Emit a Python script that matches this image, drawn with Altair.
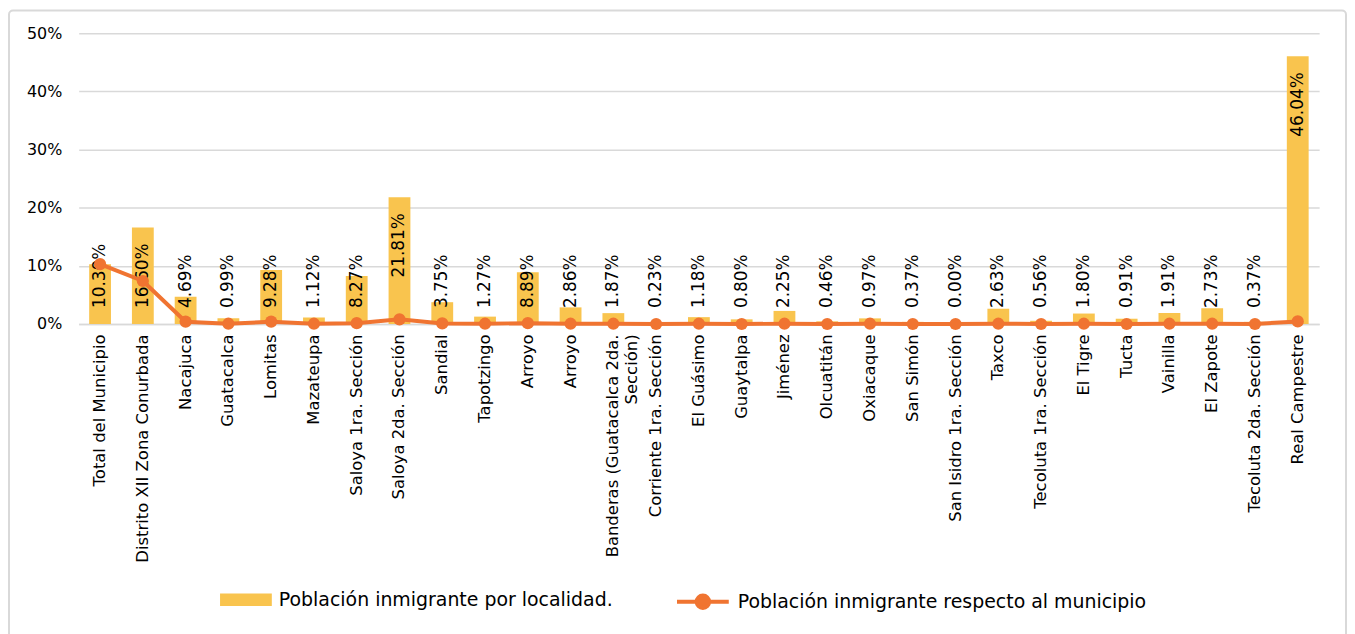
import json
import altair as alt
import pandas as pd

categories = [
    "Total del Municipio", "Distrito XII Zona Conurbada", "Nacajuca", "Guatacalca",
    "Lomitas", "Mazateupa", "Saloya 1ra. Sección", "Saloya 2da. Sección", "Sandial",
    "Tapotzingo", "Arroyo", "Arroyo", "Banderas (Guatacalca 2da. Sección)",
    "Corriente 1ra. Sección", "El Guásimo", "Guaytalpa", "Jiménez", "Olcuatitán",
    "Oxiacaque", "San Simón", "San Isidro 1ra. Sección", "Taxco",
    "Tecoluta 1ra. Sección", "El Tigre", "Tucta", "Vainilla", "El Zapote",
    "Tecoluta 2da. Sección", "Real Campestre",
]
bar_values = [
    10.30, 16.60, 4.69, 0.99, 9.28, 1.12, 8.27, 21.81, 3.75, 1.27, 8.89, 2.86, 1.87,
    0.23, 1.18, 0.80, 2.25, 0.46, 0.97, 0.37, 0.00, 2.63, 0.56, 1.80, 0.91, 1.91,
    2.73, 0.37, 46.04,
]
line_values = [
    10.30, 7.40, 0.40, 0.05, 0.40, 0.05, 0.15, 0.80, 0.10, 0.05, 0.15, 0.05, 0.05,
    0.00, 0.05, 0.00, 0.05, 0.00, 0.05, 0.00, 0.00, 0.05, 0.00, 0.05, 0.00, 0.05,
    0.05, 0.00, 0.45,
]
y_ticks = [0, 10, 20, 30, 40, 50]
bar_name = "Población inmigrante por localidad."
line_name = "Población inmigrante respecto al municipio"

YEL = "#F9C44E"
ORA = "#F07431"
GRID = "#d9d9d9"
FONT = "DejaVu Sans"

df = pd.DataFrame({
    "idx": list(range(len(categories))),
    "localidad": categories,
    "bar": bar_values,
    "line": line_values,
})
df["bar_series"] = bar_name
df["line_series"] = line_name

# axis label texts (long Banderas label wrapped onto two lines)
label_list = [
    ["Banderas (Guatacalca 2da.", "Sección)"] if c.startswith("Banderas") else c
    for c in categories
]
label_expr = json.dumps(label_list, ensure_ascii=False) + "[datum.value]"

x = alt.X(
    "idx:O",
    scale=alt.Scale(paddingInner=0.49, paddingOuter=0.245),
    axis=alt.Axis(
        title=None, labelAngle=270, labelExpr=label_expr, ticks=False, grid=False,
        domain=True, labelPadding=10, domainColor=GRID, domainWidth=1.5,
        labelFontSize=16.5, labelColor="#000000", labelFont=FONT, labelLimit=400,
        labelAlign="right", labelBaseline="middle",
    ),
)
y_axis = alt.Axis(
    values=y_ticks, labelExpr="datum.value + '%'", title=None, domain=False,
    grid=True, ticks=False, gridColor=GRID, gridWidth=1.5, labelPadding=17,
    labelFontSize=16, labelColor="#000000", labelFont=FONT,
)
yscale = alt.Scale(domain=[0, 50])

base = alt.Chart(df).encode(x=x)

RECT_PATH = "M-1,-0.24H1V0.24H-1Z"
LINE_PATH = "M-1,0H1M0.24,0A0.24,0.24,0,1,1,-0.24,0A0.24,0.24,0,1,1,0.24,0Z"

bars = base.mark_bar().encode(
    y=alt.Y("bar:Q", scale=yscale, axis=y_axis),
    fill=alt.Fill(
        "bar_series:N",
        scale=alt.Scale(domain=[bar_name], range=[YEL]),
        legend=alt.Legend(
            title=None, orient="none", legendX=142, legendY=543,
            symbolType=RECT_PATH, symbolSize=2704, symbolStrokeWidth=0,
            labelFontSize=19, labelOffset=7, labelFont=FONT, labelColor="#000000",
            labelLimit=600, padding=0,
        ),
    ),
)

labels_low = base.transform_filter(alt.datum.bar < 12).transform_calculate(
    lbl="format(datum.bar, '.2f') + '%'"
).mark_text(
    angle=270, align="left", baseline="middle", dx=16, fontSize=17, font=FONT,
    color="#000000",
).encode(y=alt.Y(datum=0, scale=yscale, axis=y_axis), text="lbl:N")

labels_high = base.transform_filter(alt.datum.bar >= 12).transform_calculate(
    lbl="format(datum.bar, '.2f') + '%'"
).mark_text(
    angle=270, align="right", baseline="middle", dx=-16, fontSize=17, font=FONT,
    color="#000000",
).encode(y=alt.Y("bar:Q", scale=yscale, axis=y_axis), text="lbl:N")

line = base.mark_line(strokeWidth=4).encode(
    y=alt.Y("line:Q", scale=yscale, axis=y_axis),
    stroke=alt.Stroke(
        "line_series:N",
        scale=alt.Scale(domain=[line_name], range=[ORA]),
        legend=alt.Legend(
            title=None, orient="none", legendX=599, legendY=543,
            symbolType=LINE_PATH, symbolSize=2704, symbolStrokeWidth=4,
            symbolFillColor=ORA, labelFontSize=19, labelOffset=7, labelFont=FONT,
            labelColor="#000000", labelLimit=600, padding=0,
        ),
    ),
)
points = base.mark_circle(size=150, color=ORA, opacity=1).encode(
    y=alt.Y("line:Q", scale=yscale, axis=y_axis)
)

border = alt.Chart(alt.Data(values=[{}])).mark_rect(
    fill="transparent", stroke=GRID, strokeWidth=2, cornerRadius=4
).encode(
    x=alt.value(-70), x2=alt.value(1273), y=alt.value(-23), y2=alt.value(640)
)

chart = (
    alt.layer(border, bars, labels_low, labels_high, line, points)
    .properties(
        width=1246, height=292,
        autosize=alt.AutoSizeParams(type="none"),
        padding={"left": 71, "top": 24, "right": 28, "bottom": 320},
        view=alt.ViewBackground(stroke="transparent"),
    )
    .configure_view(stroke="transparent", strokeWidth=0, strokeOpacity=0)
    .configure_axis(domain=False, grid=False)
    .configure(background="white")
)

chart.save("out.html", embed_options={"renderer": "svg", "actions": False})
